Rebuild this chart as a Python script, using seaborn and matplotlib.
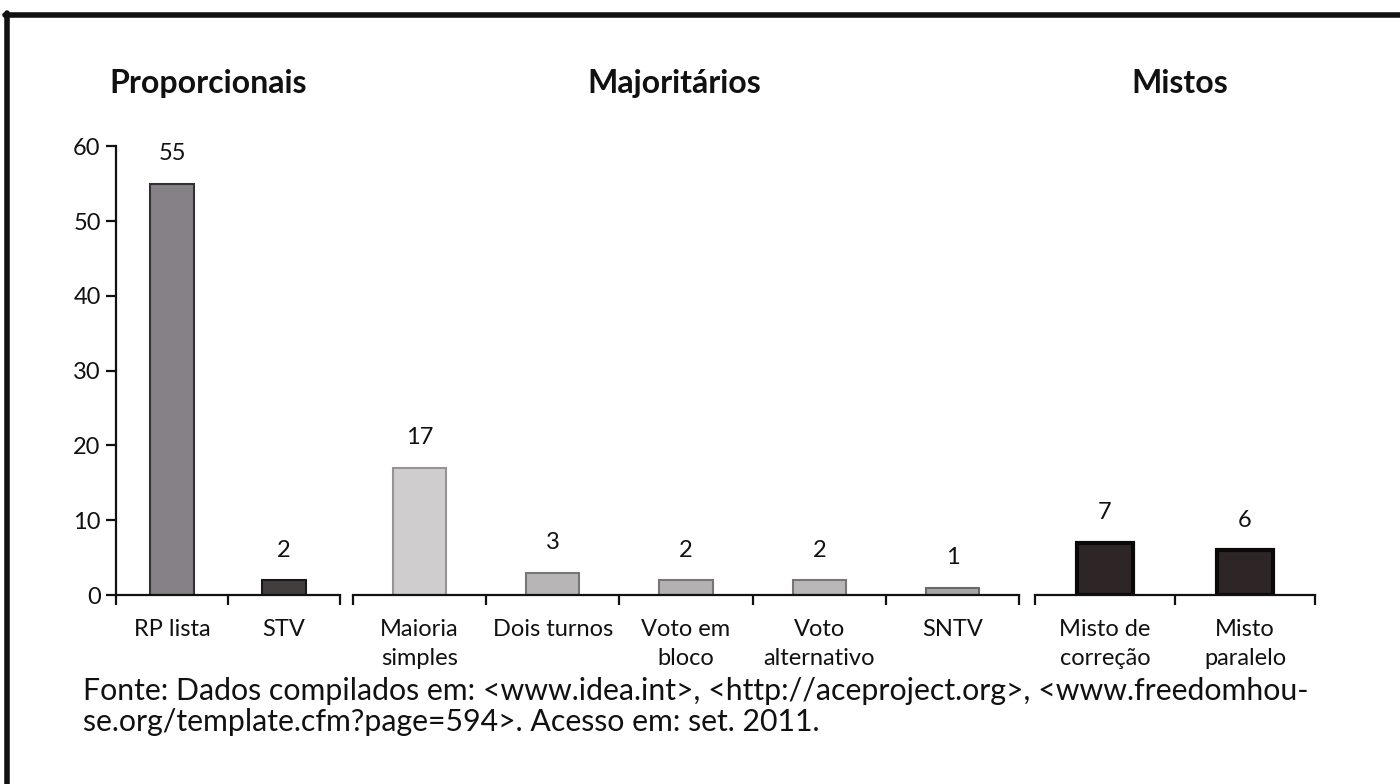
import matplotlib
matplotlib.use("Agg")
import matplotlib.pyplot as plt
from matplotlib.lines import Line2D
from matplotlib.ticker import FixedLocator
import seaborn as sns
import pandas as pd

# ---- data ----
groups = ["Proporcionais", "Majoritários", "Mistos"]
cats_prop = ["RP lista", "STV"]
vals_prop = [55, 2]
cats_maj = ["Maioria\nsimples", "Dois turnos", "Voto em\nbloco", "Voto\nalternativo", "SNTV"]
vals_maj = [17, 3, 2, 2, 1]
cats_mis = ["Misto de\ncorreção", "Misto\nparalelo"]
vals_mis = [7, 6]
yticks = [0, 10, 20, 30, 40, 50, 60]
caption = ("Fonte: Dados compilados em: <www.idea.int>, <http://aceproject.org>, <www.freedomhou-\n"
           "se.org/template.cfm?page=594>. Acesso em: set. 2011.")

colors_prop = ["#858187", "#433e3e"]
edges_prop = ["#333135", "#1a1818"]
colors_maj = ["#cfcdce", "#b7b5b5", "#b3b1b1", "#b9b7b7", "#a8a6a6"]
edges_maj = ["#959393", "#777575", "#777575", "#777575", "#6a6868"]
colors_mis = ["#2e2626", "#2e2626"]
edges_mis = ["#0a0808", "#0a0808"]

sns.set_theme(style="white")
plt.rcParams["font.family"] = ["Lato", "DejaVu Sans"]

fig = plt.figure(figsize=(14, 7.84), dpi=100)
W, H = 1400, 784
y0_px, ytop = 595, 63
ppu = 7.48
ax_bottom = (H - y0_px) / H
ax_height = ytop * ppu / H
spans = [(116, 340), (353, 1019), (1035, 1315)]
axes = [fig.add_axes([a / W, ax_bottom, (b - a) / W, ax_height]) for a, b in spans]

datasets = [(cats_prop, vals_prop, colors_prop, edges_prop),
            (cats_maj, vals_maj, colors_maj, edges_maj),
            (cats_mis, vals_mis, colors_mis, edges_mis)]
title_x = [0.41, 0.483, 0.518]

for i, (ax, (cats, vals, cols, eds)) in enumerate(zip(axes, datasets)):
    df = pd.DataFrame({"cat": cats, "val": vals})
    sns.barplot(data=df, x="cat", y="val", hue="cat", palette=cols, legend=False,
                width=0.4, ax=ax, saturation=1)
    for p, e in zip(ax.patches, eds):
        p.set_edgecolor(e)
        p.set_linewidth(3 if i == 2 else 1.5)
    for c in ax.containers:
        ax.bar_label(c, fmt="%d", padding=14, fontsize=17, color="#111111")
    n = len(cats)
    ax.set_xlim(-0.5, n - 0.5)
    ax.set_ylim(0, ytop)
    ax.set_xlabel("")
    ax.set_ylabel("")
    ax.patch.set_alpha(0)
    for s in ["top", "right"]:
        ax.spines[s].set_visible(False)
    ax.spines["bottom"].set_bounds(-0.5, n - 0.5)
    ax.spines["bottom"].set_color("#111111")
    ax.spines["bottom"].set_linewidth(1.6)
    ax.xaxis.set_minor_locator(FixedLocator([k - 0.5 for k in range(n + 1)]))
    ax.tick_params(axis="x", which="major", length=0, pad=17, labelsize=17,
                   labelcolor="#111111")
    ax.tick_params(axis="x", which="minor", bottom=True, length=7, width=1.6,
                   direction="out", color="#111111")
    for lbl in ax.get_xticklabels():
        lbl.set_linespacing(1.5)
        lbl.set_verticalalignment("top")
    if i == 0:
        ax.spines["left"].set_bounds(0, 60)
        ax.spines["left"].set_color("#111111")
        ax.spines["left"].set_linewidth(1.6)
        ax.set_yticks(yticks)
        ax.tick_params(axis="y", which="major", left=True, length=7, width=1.6,
                       direction="out", color="#111111", pad=4, labelsize=17,
                       labelcolor="#111111")
    else:
        ax.spines["left"].set_visible(False)
        ax.set_yticks([])
    ax.set_title(groups[i], x=title_x[i], pad=22, fontsize=23, fontweight="bold",
                 color="#111111")

fig.text(83 / W, (H - 677) / H, caption, ha="left", va="top", fontsize=21.8,
         color="#111111", linespacing=1.12)

# page frame (top and left edges)
fig.add_artist(Line2D([5 / W, 1.0], [(H - 15) / H, (H - 15) / H], transform=fig.transFigure,
                      color="#111111", linewidth=4))
fig.add_artist(Line2D([7 / W, 7 / W], [0, (H - 13) / H], transform=fig.transFigure,
                      color="#111111", linewidth=4))

fig.savefig("out.png", dpi=100, facecolor="white")
